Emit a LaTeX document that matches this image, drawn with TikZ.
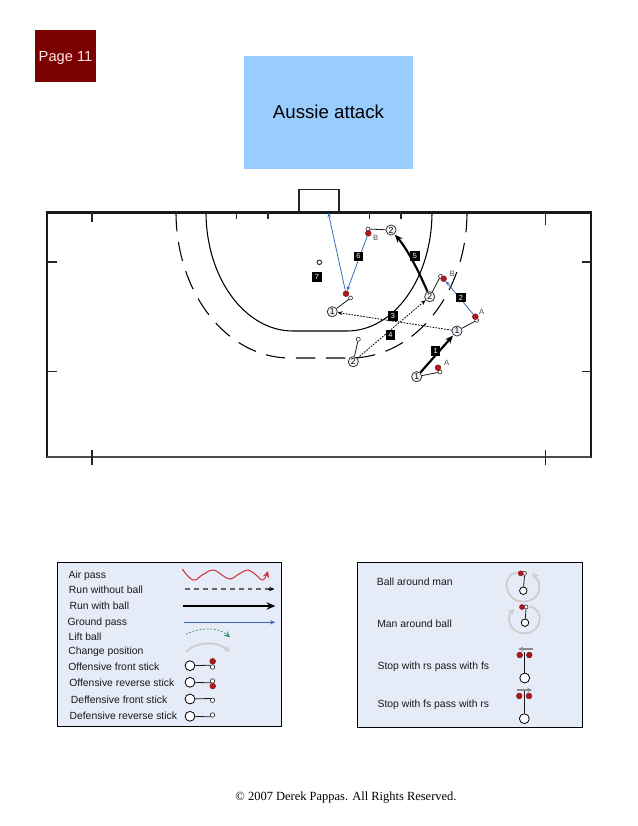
\documentclass[tikz,border=0pt]{standalone}
\usepackage{fontspec}
\setmainfont{Liberation Sans}
\newfontfamily\serifcopy{Liberation Serif}
\usepackage{xcolor}
\usetikzlibrary{arrows.meta,positioning}
\definecolor{pagered}{RGB}{123,0,0}
\definecolor{titleblue}{RGB}{153,204,255}
\definecolor{legendbg}{RGB}{230,236,247}
\definecolor{ballred}{RGB}{176,24,32}
\definecolor{passblue}{RGB}{60,105,190}
\definecolor{airred}{RGB}{208,48,58}
\definecolor{liftgreen}{RGB}{60,150,115}
\definecolor{changegray}{RGB}{205,205,205}

\begin{document}
\begin{tikzpicture}[
    x=0.75pt, y=-0.75pt,
    player/.style={circle, draw=black!85, fill=legendbg!60, minimum size=7.6pt, inner sep=0pt,
                   line width=0.55pt, font=\fontsize{6.5}{6.5}\selectfont},
    legplayer/.style={circle, draw=black, fill=white, minimum size=7.4pt, inner sep=0pt, line width=0.6pt},
    ball/.style={circle, draw=ballred!70!black, fill=ballred, minimum size=4.4pt, inner sep=0pt, line width=0.3pt},
    hook/.style={circle, draw=black!85, fill=white, minimum size=3pt, inner sep=0pt, line width=0.45pt},
    numtag/.style={rectangle, fill=black, text=white, minimum size=6.8pt, inner sep=0pt,
                   font=\fontsize{5.5}{5.5}\selectfont},
    ballname/.style={text=black!70, inner sep=0pt, font=\fontsize{5.8}{5.8}\selectfont},
    legtext/.style={anchor=west, inner sep=0pt, text=black!90, text height=7.2pt, text depth=1.6pt,
                    font=\fontsize{7.8}{9}\selectfont},
    legbox/.style={rectangle, draw=black, fill=legendbg, line width=0.7pt, anchor=north west},
    fieldline/.style={line width=1.9pt, black!90},
    tickline/.style={line width=0.8pt, black!85},
    stickline/.style={line width=0.6pt, black!90},
    runball/.style={-{Stealth[length=6pt,width=5pt]}, line width=1.6pt, black, shorten >=0.5pt},
    runpass/.style={-{Stealth[length=3.4pt,width=2.8pt]}, line width=0.6pt, passblue},
    dotpass/.style={-{Stealth[length=3.6pt,width=3pt]}, line width=0.6pt, black, dash pattern=on 1.3pt off 0.9pt},
    grayarc/.style={-{Stealth[length=5pt,width=5pt]}, line width=1.3pt, changegray}]

\useasboundingbox (0,0) rectangle (638,826);

\node[rectangle, fill=pagered, text=white!90!red, minimum width=45.75pt, minimum height=39pt, inner sep=0pt,
      text height=10.6pt, text depth=2.4pt, font=\fontsize{11}{11}\selectfont] (page) at (65.5,56) {Page 11};
\node[rectangle, fill=titleblue, minimum width=126.5pt, minimum height=84.5pt, inner sep=0pt,
      font=\fontsize{14}{14}\selectfont] (title) at (328.5,112.3) {Aussie attack};

\draw[line width=0.8pt, black!85] (299,212.5) -- (299,189.5) -- (339,189.5) -- (339,212.5);
\draw[line width=0.8pt] (206,212) .. controls (206,278) and (245,331) .. (293,331) -- (347,331)
    .. controls (394,331) and (432,278) .. (432,212);
\draw[line width=0.8pt, dash pattern=on 14.6pt off 8pt] (176,212) .. controls (176,293) and (227,358) .. (290,358) -- (350,358)
    .. controls (415,358) and (467,293) .. (467,212);

\draw[fieldline] (46,212.5) -- (591.8,212.5);
\draw[fieldline] (47,211.5) -- (47,457.5);
\draw[fieldline] (591,211.5) -- (591,457.5);
\draw[line width=1.4pt, black!70] (47,456.7) -- (591,456.7);
\draw[tickline] (92,212) -- (92,222);
\draw[tickline] (236.7,212) -- (236.7,219);
\draw[tickline] (268,212) -- (268,219);
\draw[tickline] (369.7,212) -- (369.7,219);
\draw[tickline] (401,212) -- (401,219);
\draw[tickline] (545.7,212) -- (545.7,225);
\draw[tickline] (47,262) -- (57,262);
\draw[tickline] (47,371.7) -- (57,371.7);
\draw[tickline] (581.7,262) -- (591,262);
\draw[tickline] (581.7,371.7) -- (591,371.7);
\draw[tickline] (92,450) -- (92,465);
\draw[tickline] (545.7,450) -- (545.7,465);

\node[player] (p1a) at (416.7,376.7) {1};
\node[player] (p1b) at (457,331) {1};
\node[player] (p1c) at (332.3,311.7) {1};
\node[player] (p2a) at (353.3,361.7) {2};
\node[player] (p2b) at (429.7,296.7) {2};
\node[player] (p2c) at (391,230) {2};
\node[hook] (h1a) at (440,372) {};
\node[hook] (h1b) at (476.7,320.3) {};
\node[hook] (h1c) at (350.5,298) {};
\node[hook] (h2a) at (358.3,339.3) {};
\node[hook] (h2b) at (440.5,276.3) {};
\node[hook] (h2c) at (368,229) {};
\node[ball] (b1a) at (438,367.7) {};
\node[ball] (b1b) at (475.3,316.7) {};
\node[ball] (b2b) at (443.7,278.7) {};
\node[ball] (b2c) at (368.3,233.3) {};
\node[ball] (b1c) at (346,293.7) {};
\node[circle, draw=black!85, fill=white, minimum size=3.4pt, inner sep=0pt, line width=0.7pt] (cone) at (319.3,262.3) {};
\coordinate (goalmouth) at (328.3,212.7);

\draw[stickline] (p1a) -- (h1a);
\draw[stickline] (p1b) -- (h1b);
\draw[stickline] (p1c) -- (h1c);
\draw[stickline] (p2a) -- (h2a);
\draw[stickline] (p2b) -- (h2b);
\draw[stickline] (p2c) -- (h2c);
\draw[runball] (p1a) -- (p1b);
\draw[runpass] (b1b) -- (b2b);
\draw[dotpass] (p1b) -- (p1c);
\draw[dotpass] (p2a) -- (p2b);
\draw[runball] (p2b) .. controls (419,272) and (408,250) .. (p2c);
\draw[runpass] (b2c) -- (b1c);
\draw[runpass] (b1c) -- (goalmouth);

\node[numtag] (n1) at (435.7,351) {1};
\node[numtag] (n2) at (461,297.7) {2};
\node[numtag] (n3) at (393,316) {3};
\node[numtag] (n4) at (390.3,335) {4};
\node[numtag] (n5) at (415,256) {5};
\node[numtag] (n6) at (358.3,256.3) {6};
\node[numtag] (n7) at (317,277) {7};
\node[ballname] (la) at (446.7,362.7) {A};
\node[ballname] (lb) at (481.7,312) {A};
\node[ballname] (lc) at (452.3,273.7) {B};
\node[ballname] (ld) at (375.7,238.3) {B};

\node[legbox, minimum width=168.5pt, minimum height=122.5pt] (legleft) at (56.7,562.3) {};
\node[legbox, minimum width=168.7pt, minimum height=123.2pt] (legright) at (357.3,562.3) {};

\node[legtext] (t1) at (68.3,574.3) {Air pass};
\node[legtext] (t2) at (68.7,589.7) {Run without ball};
\node[legtext] (t3) at (69.3,605.3) {Run with ball};
\node[legtext] (t4) at (67.3,621.3) {Ground pass};
\node[legtext] (t5) at (68.3,636.3) {Lift ball};
\node[legtext] (t6) at (68,650.7) {Change position};
\node[legtext] (t7) at (68,666.3) {Offensive front stick};
\node[legtext] (t8) at (69,682.3) {Offensive reverse stick};
\node[legtext] (t9) at (70.7,699.3) {Deffensive front stick};
\node[legtext] (t10) at (69.3,715.3) {Defensive reverse stick};

\draw[airred, line width=0.75pt, -{Stealth[length=5pt,width=5pt]}] plot[smooth, tension=0.7] coordinates
    {(182.3,569) (193,580) (203,574.5) (213,570) (222,575) (230,579) (239,574) (248,570) (256,575) (263,580) (268,571)};
\draw[black!60, line width=1pt, dash pattern=on 3.7pt off 3pt] (185,589) -- (270,589);
\draw[-{Stealth[length=4pt,width=3.2pt]}, line width=0.5pt] (268,589) -- (274.5,589);
\draw[black, line width=1.7pt, -{Stealth[length=6.5pt,width=5.5pt]}] (183.3,606) -- (275.3,606);
\draw[passblue, line width=0.7pt, -{Stealth[length=4pt,width=3.2pt]}] (184,622.3) -- (275.3,622.3);
\draw[liftgreen, line width=0.5pt, dash pattern=on 1.5pt off 1.2pt, -{Stealth[length=4.5pt,width=4.5pt,sep=0pt]}] (186,634.3) .. controls (198,628) and (217,626) .. (230,637.3);
\draw[grayarc] (186,651.7) .. controls (196,642) and (216,640) .. (230,652);

\node[legplayer] (s1) at (190,665.7) {};
\node[legplayer] (s2) at (190,682.3) {};
\node[legplayer] (s3) at (190,699) {};
\node[legplayer] (s4) at (190,716.3) {};
\node[hook, minimum size=3.4pt] (k1) at (212.5,667) {};
\node[hook, minimum size=3.4pt] (k2) at (212.5,681) {};
\node[hook, minimum size=3.4pt] (k3) at (212.5,700.3) {};
\node[hook, minimum size=3.4pt] (k4) at (212.5,715) {};
\draw[stickline] (s1) -- (k1.north west);
\draw[stickline] (s2) -- (k2.south west);
\draw[stickline] (s3) -- (k3.north west);
\draw[stickline] (s4) -- (k4.south west);
\node[ball] (o1) at (212.7,661.3) {};
\node[ball] (o2) at (212.7,686) {};

\node[legtext] (r1) at (376.7,581.3) {Ball around man};
\node[legtext] (r2) at (377,623.3) {Man around ball};
\node[legtext] (r3) at (377.3,665.7) {Stop with rs pass with fs};
\node[legtext] (r4) at (377.3,703.3) {Stop with fs pass with rs};

\draw[grayarc] (517,572.5) .. controls (500,575) and (505,601.5) .. (522.5,601.5) .. controls (541,601.5) and (543,584) .. (532,573);
\draw[grayarc] (530,606.5) .. controls (546,610) and (541,633.3) .. (525,633.3) .. controls (509,633.3) and (506,617) .. (514.5,609);
\node[legplayer, minimum size=5.6pt] (m1) at (523.3,590.7) {};
\node[hook] (m1h) at (524.5,573.3) {};
\node[ball, minimum size=3.8pt] (m1b) at (520.7,573.3) {};
\draw[stickline] (m1) -- (m1h.south);
\node[legplayer, minimum size=5.6pt] (m2) at (525,622.7) {};
\node[hook] (m2h) at (526,607) {};
\node[ball, minimum size=3.8pt] (m2b) at (522,607) {};
\draw[stickline] (m2) -- (m2h.south);

\node[legplayer] (m3) at (524.7,678) {};
\coordinate (m3top) at (524.7,651.7);
\draw[stickline] (m3) -- (m3top);
\node[ball] (m3a) at (519.7,655) {};
\node[ball] (m3b) at (529.3,655) {};
\coordinate (m3r) at (532.7,649);
\coordinate (m3l) at (518.3,649);
\draw[-{Stealth[length=3.6pt,width=3.6pt]}, line width=0.8pt, black!45] (m3r) -- (m3l);
\node[legplayer] (m4) at (524.3,718.7) {};
\coordinate (m4top) at (524.3,690);
\draw[stickline] (m4) -- (m4top);
\node[ball] (m4a) at (519.3,696) {};
\node[ball] (m4b) at (529,696) {};
\coordinate (m4l) at (516.7,690);
\coordinate (m4r) at (532,690);
\draw[-{Stealth[length=3.6pt,width=3.6pt]}, line width=0.8pt, black!45] (m4l) -- (m4r);

\node[inner sep=0pt, text height=7.5pt, text depth=2pt, font=\serifcopy\fontsize{9.35}{9.35}\selectfont] (copy) at (346,797) {© 2007 Derek Pappas. All Rights Reserved.};
\end{tikzpicture}
\end{document}
